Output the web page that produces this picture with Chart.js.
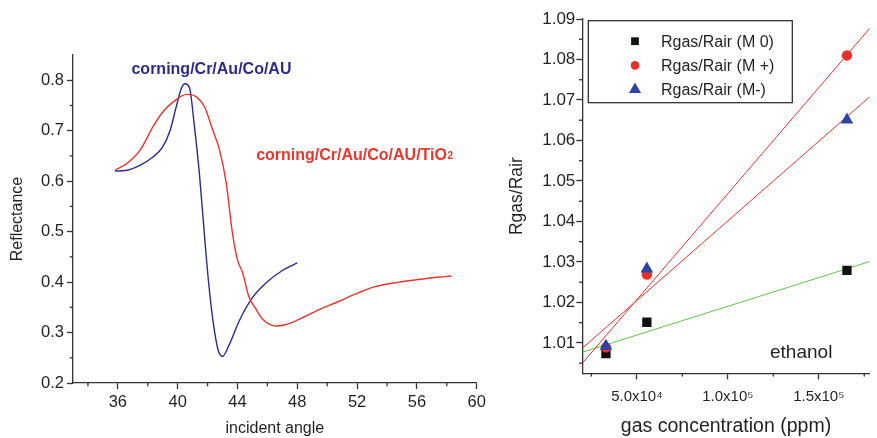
<!DOCTYPE html>
<html><head><meta charset="utf-8">
<script src="https://cdn.jsdelivr.net/npm/chart.js@4.4.1/dist/chart.umd.min.js"></script>
<style>
html,body{margin:0;padding:0;background:#fff;width:877px;height:438px;overflow:hidden}
#l{position:absolute;left:0;top:0}
#r{position:absolute;left:500px;top:0}
</style></head><body>
<canvas id="l" width="500" height="438"></canvas>
<canvas id="r" width="377" height="438"></canvas>
<script>
// ---------- left panel data ----------
const angleBlue = [35.8, 36.5, 37.5, 38.35, 39.0, 39.5, 39.9, 40.25, 40.5, 40.8, 41.1, 41.45, 41.8, 42.05, 42.35, 42.7, 43.0, 43.45, 44.1, 45.0, 45.9, 47.0, 48.0];
const reflBlue  = [0.620, 0.621, 0.632, 0.648, 0.668, 0.701, 0.747, 0.784, 0.793, 0.784, 0.714, 0.616, 0.490, 0.405, 0.326, 0.266, 0.253, 0.276, 0.322, 0.369, 0.398, 0.423, 0.438];
const angleRed  = [35.8, 36.6, 37.5, 38.35, 39.0, 39.7, 40.6, 41.25, 41.8, 42.35, 42.8, 43.25, 43.65, 44.0, 44.35, 44.75, 45.25, 45.7, 46.6, 47.25, 48.1, 49.5, 50.8, 52.1, 53.2, 54.8, 56.1, 57.5, 58.3];
const reflRed   = [0.622, 0.635, 0.662, 0.708, 0.737, 0.757, 0.772, 0.767, 0.747, 0.701, 0.662, 0.596, 0.500, 0.444, 0.418, 0.372, 0.346, 0.326, 0.313, 0.316, 0.326, 0.346, 0.362, 0.379, 0.391, 0.400, 0.405, 0.410, 0.412];
const labelBlue = 'corning/Cr/Au/Co/AU';
const labelRed = 'corning/Cr/Au/Co/AU/TiO';
const labelRedSub = '2';
const angleTicks = [36, 40, 44, 48, 52, 56, 60];
const angleMinor = [34, 38, 42, 46, 50, 54, 58];
const reflTicks = [0.2, 0.3, 0.4, 0.5, 0.6, 0.7, 0.8];
const reflMinor = [0.25, 0.35, 0.45, 0.55, 0.65, 0.75];

// ---------- right panel data ----------
const conc = [33000, 55500, 165500];
const ratioM0 = [1.0074, 1.0151, 1.0279];
const ratioMplus = [1.0089, 1.0269, 1.0810];
const ratioMminus = [1.0092, 1.0283, 1.0651];
const fitConc = [20000, 178000];
const fitM0 = [1.0077, 1.0301];
const fitMplus = [1.0050, 1.0877];
const fitMminus = [1.0087, 1.0708];
const seriesNames = ['Rgas/Rair (M 0)', 'Rgas/Rair (M +)', 'Rgas/Rair (M-)'];
const concTicks = [50000, 100000, 150000];
const concTickLabels = ['5.0x10\u2074', '1.0x10\u2075', '1.5x10\u2075'];
const concMinor = [25000, 75000, 125000, 175000];
const ratioTicks = [1.01, 1.02, 1.03, 1.04, 1.05, 1.06, 1.07, 1.08, 1.09];
const ratioMinor = [1.005, 1.015, 1.025, 1.035, 1.045, 1.055, 1.065, 1.075, 1.085];
const gasName = 'ethanol';

// ---------- styling ----------
const FONT = '"Liberation Sans", Arial, Helvetica, sans-serif';
const INK = '#231f20';
const AXIS = '#333333';
const BLUE_LINE = '#2e2a8c', RED_LINE = '#e8342c';
const BLUE_TXT = '#2e2a8a', RED_TXT = '#e8372c';
const M_BLACK = '#111111', M_RED = '#e8302a', M_BLUE = '#2d43a8', FIT_GREEN = '#62c24a';

Chart.defaults.font.family = FONT;
Chart.defaults.color = INK;
Chart.defaults.animation = false;
Chart.defaults.plugins.legend.display = false;
Chart.defaults.plugins.tooltip.enabled = false;

function axisCfg(o) {
  return {
    type: 'linear', min: o.min, max: o.max,
    border: {display: true, color: AXIS, width: 1.3},
    grid: {drawOnChartArea: false, drawTicks: true, tickLength: 6, tickColor: AXIS, tickWidth: 1.3},
    ticks: {color: INK, font: {family: FONT, size: o.size}, padding: o.pad, callback: o.cb, autoSkip: false, maxRotation: 0},
    afterBuildTicks: s => { s.ticks = o.ticks.map(v => ({value: v})); },
    afterFit: s => { if (s.isHorizontal()) s.height = o.box; else s.width = o.box; },
    title: {display: true, text: o.title, color: INK, font: {family: FONT, size: o.tsize}, padding: o.tpad}
  };
}

const minorTicks = {
  id: 'minorTicks',
  afterDraw(chart, args, opts) {
    const ctx = chart.ctx;
    ctx.save();
    ctx.strokeStyle = AXIS; ctx.lineWidth = 1.3;
    for (const id of Object.keys(opts.map || {})) {
      const s = chart.scales[id];
      opts.map[id].forEach(v => {
        const p = s.getPixelForValue(v);
        ctx.beginPath();
        if (s.isHorizontal()) { ctx.moveTo(p, s.top); ctx.lineTo(p, s.top + 3.3); }
        else { ctx.moveTo(s.right, p); ctx.lineTo(s.right - 3.3, p); }
        ctx.stroke();
      });
    }
    ctx.restore();
  }
};

// ---------- left chart ----------
const curveLabels = {
  id: 'curveLabels',
  afterDatasetsDraw(chart) {
    const {ctx, scales: {x, y}} = chart;
    ctx.save();
    ctx.textAlign = 'left'; ctx.textBaseline = 'alphabetic';
    ctx.font = 'bold 16px ' + FONT;
    ctx.fillStyle = BLUE_TXT;
    ctx.fillText(labelBlue, x.getPixelForValue(36.91), y.getPixelForValue(0.8132));
    ctx.fillStyle = RED_TXT;
    const rx = x.getPixelForValue(45.25), ry = y.getPixelForValue(0.6419);
    ctx.fillText(labelRed, rx, ry);
    const w = ctx.measureText(labelRed).width;
    ctx.font = 'bold 10px ' + FONT;
    ctx.fillText(labelRedSub, rx + w + 0.5, ry - 1);
    ctx.restore();
  }
};

new Chart(document.getElementById('l'), {
  type: 'scatter',
  data: {
    datasets: [
      {data: angleRed.map((v, i) => ({x: v, y: reflRed[i]})), showLine: true, borderColor: RED_LINE, borderWidth: 1.4, pointRadius: 0, cubicInterpolationMode: 'monotone'},
      {data: angleBlue.map((v, i) => ({x: v, y: reflBlue[i]})), showLine: true, borderColor: BLUE_LINE, borderWidth: 1.4, pointRadius: 0, cubicInterpolationMode: 'monotone'}
    ]
  },
  options: {
    responsive: false,
    layout: {padding: {top: 55, right: 23.3, bottom: 0, left: 0}},
    scales: {
      x: axisCfg({min: 33, max: 60, ticks: angleTicks, size: 16.5, pad: 4, box: 55, cb: v => String(v),
        title: 'incident angle', tsize: 16, tpad: {top: 0, bottom: 0}}),
      y: axisCfg({min: 0.2, max: 0.85, ticks: reflTicks, size: 16.5, pad: 3, box: 73, cb: v => v.toFixed(1),
        title: 'Reflectance', tsize: 16, tpad: {top: 7.5, bottom: 0}})
    },
    plugins: {minorTicks: {map: {x: angleMinor, y: reflMinor}}}
  },
  plugins: [minorTicks, curveLabels]
});

// ---------- right chart ----------
const boxLegend = {
  id: 'boxLegend',
  afterDraw(chart) {
    const {ctx, chartArea: a} = chart;
    const bx = a.left + 6, by = a.top + 1.7, bw = 204, bh = 82;
    ctx.save();
    ctx.fillStyle = '#fff'; ctx.fillRect(bx, by, bw, bh);
    ctx.strokeStyle = '#222'; ctx.lineWidth = 1.2; ctx.strokeRect(bx, by, bw, bh);
    const marks = chart.data.datasets.filter(d => d.legendRow !== undefined);
    marks.forEach(d => {
      const yy = by + 20.5 + d.legendRow * 24.2;
      ctx.fillStyle = d.backgroundColor;
      Chart.helpers.drawPoint(ctx, {pointStyle: d.pointStyle, radius: d.legendRadius, rotation: 0, borderWidth: 0}, bx + 46.7, yy);
      ctx.fillStyle = INK;
      ctx.font = '16px ' + FONT; ctx.textAlign = 'left'; ctx.textBaseline = 'middle';
      ctx.fillText(d.label, bx + 72.7, yy + 1);
    });
    // gas label
    const {x, y} = chart.scales;
    ctx.fillStyle = INK; ctx.font = '19px ' + FONT; ctx.textBaseline = 'alphabetic'; ctx.textAlign = 'left';
    ctx.fillText(gasName, x.getPixelForValue(123200), y.getPixelForValue(1.00622));
    ctx.restore();
  }
};

new Chart(document.getElementById('r'), {
  type: 'scatter',
  data: {
    datasets: [
      {label: seriesNames[2], legendRow: 2, legendRadius: 7, data: conc.map((v, i) => ({x: v, y: ratioMminus[i]})), pointStyle: 'triangle', pointRadius: 7.3, backgroundColor: M_BLUE, borderWidth: 0, order: 0},
      {label: seriesNames[1], legendRow: 1, legendRadius: 4.3, data: conc.map((v, i) => ({x: v, y: ratioMplus[i]})), pointStyle: 'circle', pointRadius: 5.2, backgroundColor: M_RED, borderWidth: 0, order: 1},
      {label: seriesNames[0], legendRow: 0, legendRadius: 5.5, data: conc.map((v, i) => ({x: v, y: ratioM0[i]})), pointStyle: 'rect', pointRadius: 6.6, backgroundColor: M_BLACK, borderWidth: 0, order: 2},
      {data: fitConc.map((v, i) => ({x: v, y: fitMplus[i]})), showLine: true, borderColor: RED_LINE, borderWidth: 1, pointRadius: 0, order: 3},
      {data: fitConc.map((v, i) => ({x: v, y: fitMminus[i]})), showLine: true, borderColor: RED_LINE, borderWidth: 1, pointRadius: 0, order: 3},
      {data: fitConc.map((v, i) => ({x: v, y: fitM0[i]})), showLine: true, borderColor: FIT_GREEN, borderWidth: 1, pointRadius: 0, order: 3}
    ]
  },
  options: {
    responsive: false,
    layout: {padding: {top: 19, right: 0, bottom: 0, left: 0}},
    scales: {
      x: axisCfg({min: 20000, max: 178000, ticks: concTicks, size: 15, pad: 9, box: 64.7,
        cb: v => concTickLabels[concTicks.indexOf(v)],
        title: 'gas concentration (ppm)', tsize: 19.5, tpad: {top: 0, bottom: 0}}),
      y: axisCfg({min: 1.0025, max: 1.09, ticks: ratioTicks, size: 17, pad: 1, box: 82.3, cb: v => v.toFixed(2),
        title: 'Rgas/Rair', tsize: 17.5, tpad: {top: 6.5, bottom: 0}})
    },
    plugins: {minorTicks: {map: {x: concMinor, y: ratioMinor}}}
  },
  plugins: [minorTicks, boxLegend]
});
</script>
</body></html>
